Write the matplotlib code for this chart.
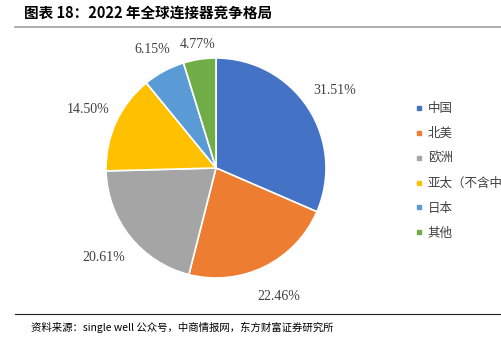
import numpy as np
import matplotlib.pyplot as plt
from matplotlib.lines import Line2D

plt.rcParams['font.family'] = ['Liberation Serif', 'Noto Sans CJK SC', 'DejaVu Sans']

regions = ["中国", "北美", "欧洲", "亚太（不含中国）", "日本", "其他"]
shares = [31.51, 22.46, 20.61, 14.50, 6.15, 4.77]
colors = ["#4472C4", "#ED7D31", "#A5A5A5", "#FFC000", "#5B9BD5", "#70AD47"]
# radial distance of each value label (in pie radii)
label_dist = [1.29, 1.30, 1.31, 1.28, 1.22, 1.14]

fig = plt.figure(figsize=(5.01, 3.48), dpi=100)

# pie axes: centre ~ (216, 168) px, radius ~110 px
ax = fig.add_axes([(216 - 120) / 501, (180 - 120) / 348, 240 / 501, 240 / 348])
wedges, texts, autotexts = ax.pie(
    shares, colors=colors, startangle=90, counterclock=False,
    autopct=lambda p: f"{p:.2f}%", pctdistance=1.28,
    wedgeprops=dict(edgecolor="white", linewidth=1.2),
)
for w, t, d in zip(wedges, autotexts, label_dist):
    ang = np.deg2rad((w.theta1 + w.theta2) / 2)
    t.set_position((d * np.cos(ang), d * np.sin(ang)))
    t.set_fontsize(10)
    t.set_color("#404040")
lim = 120 / 110
ax.set_xlim(-lim, lim)
ax.set_ylim(-lim, lim)
ax.set_aspect("equal")
ax.axis("off")

handles = [Line2D([], [], marker="s", linestyle="none", markersize=3.5,
                  markerfacecolor=c, markeredgecolor=c) for c in colors]
leg = fig.legend(handles, regions, loc="upper left",
                 bbox_to_anchor=(404 / 501, 1 - 91 / 348), frameon=False,
                 handlelength=0.6, handletextpad=0.4, labelspacing=0.95,
                 prop={"family": ["Noto Sans CJK SC"], "size": 9})
for t in leg.get_texts():
    t.set_color("#404040")

# title and rules
fig.text(24 / 501, 1 - 13 / 348, "图表 18：2022 年全球连接器竞争格局",
         fontsize=10.5, fontweight="bold", va="center",
         family=["Noto Sans CJK SC", "DejaVu Sans"])
fig.add_artist(Line2D([15 / 501, 1], [1 - 27 / 348] * 2, color="#A0A0A0", lw=1.2))
fig.add_artist(Line2D([15 / 501, 1], [1 - 314 / 348] * 2, color="#202020", lw=0.8))
fig.text(31 / 501, 1 - 327 / 348,
         "资料来源：single well 公众号，中商情报网，东方财富证券研究所",
         fontsize=7.5, va="center", family=["Noto Sans CJK SC", "DejaVu Sans"])

fig.savefig("out.png", dpi=100)
